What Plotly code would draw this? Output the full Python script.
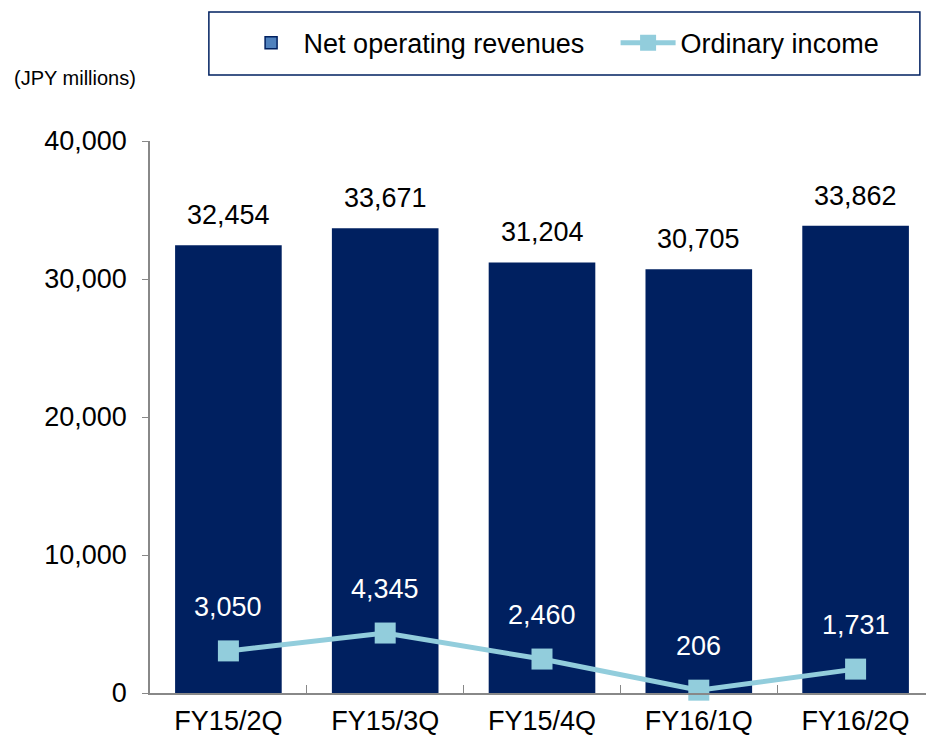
import plotly.graph_objects as go

categories = ["FY15/2Q", "FY15/3Q", "FY15/4Q", "FY16/1Q", "FY16/2Q"]
net_operating_revenues = [32454, 33671, 31204, 30705, 33862]
ordinary_income = [3050, 4345, 2460, 206, 1731]
y_ticks = [0, 10000, 20000, 30000, 40000]
y_tick_labels = ["0", "10,000", "20,000", "30,000", "40,000"]

FONT = "Arial, Liberation Sans, sans-serif"
NAVY = "#002060"
LIGHT = "#92CDDC"

fig = go.Figure()

# legend-only swatch for bars
fig.add_trace(go.Bar(
    x=[None], y=[None], name="Net operating revenues",
    marker=dict(color="#4F81BD", line=dict(color=NAVY, width=1.5)),
    showlegend=True,
))
fig.add_trace(go.Bar(
    x=categories, y=net_operating_revenues, name="Net operating revenues",
    marker=dict(color=NAVY, line=dict(width=0)),
    showlegend=False,
))
fig.add_trace(go.Scatter(
    x=categories, y=ordinary_income, name="Ordinary income",
    mode="lines+markers",
    line=dict(color=LIGHT, width=5),
    marker=dict(symbol="square", size=21, color=LIGHT),
    cliponaxis=False,
))

annotations = []
for c, v in zip(categories, net_operating_revenues):
    annotations.append(dict(x=c, y=v, text=f"{v:,}", showarrow=False,
                            yshift=30, yanchor="middle",
                            font=dict(family=FONT, size=27, color="#000000")))
for c, v in zip(categories, ordinary_income):
    annotations.append(dict(x=c, y=v, text=f"{v:,}", showarrow=False,
                            yshift=44, yanchor="middle",
                            font=dict(family=FONT, size=27, color="#FFFFFF")))
annotations.append(dict(x=-0.1762, y=1.114, xref="paper", yref="paper", text="(JPY millions)",
                        showarrow=False, xanchor="left", yanchor="middle",
                        font=dict(family=FONT, size=20, color="#000000")))

fig.update_layout(
    width=926, height=737,
    margin=dict(l=142, r=0, t=133, b=52, autoexpand=False),
    paper_bgcolor="white", plot_bgcolor="white",
    bargap=0.32,
    barmode="overlay",
    font=dict(family=FONT, size=27, color="#000000"),
    showlegend=True,
    legend=dict(
        orientation="h", x=0.113, y=1.177, xanchor="left", yanchor="middle",
        borderwidth=0, bgcolor="rgba(0,0,0,0)",
        font=dict(family=FONT, size=27, color="#000000"),
        itemwidth=55,
        entrywidth=307, entrywidthmode="pixels",
    ),
    shapes=[dict(type="rect", xref="paper", yref="paper",
                 x0=0.0751, x1=0.982, y0=1.1196, y1=1.2337,
                 line=dict(color=NAVY, width=1.5), fillcolor="rgba(0,0,0,0)")],
    annotations=annotations,
    xaxis=dict(
        type="category", automargin=False,
        showline=True, linecolor="#888888", linewidth=1.5,
        ticks="inside", tickson="boundaries", ticklen=8, tickcolor="#888888",
        showgrid=False,
        ticklabelstandoff=3,
        tickfont=dict(family=FONT, size=27),
    ),
    yaxis=dict(
        range=[0, 40000], automargin=False,
        tickvals=y_ticks, ticktext=y_tick_labels,
        showline=True, linecolor="#888888", linewidth=1.5,
        ticks="outside", ticklen=6, tickcolor="#888888",
        showgrid=False, zeroline=False,
        ticklabelstandoff=10,
        tickfont=dict(family=FONT, size=27),
    ),
)

fig.write_html("out.html")
